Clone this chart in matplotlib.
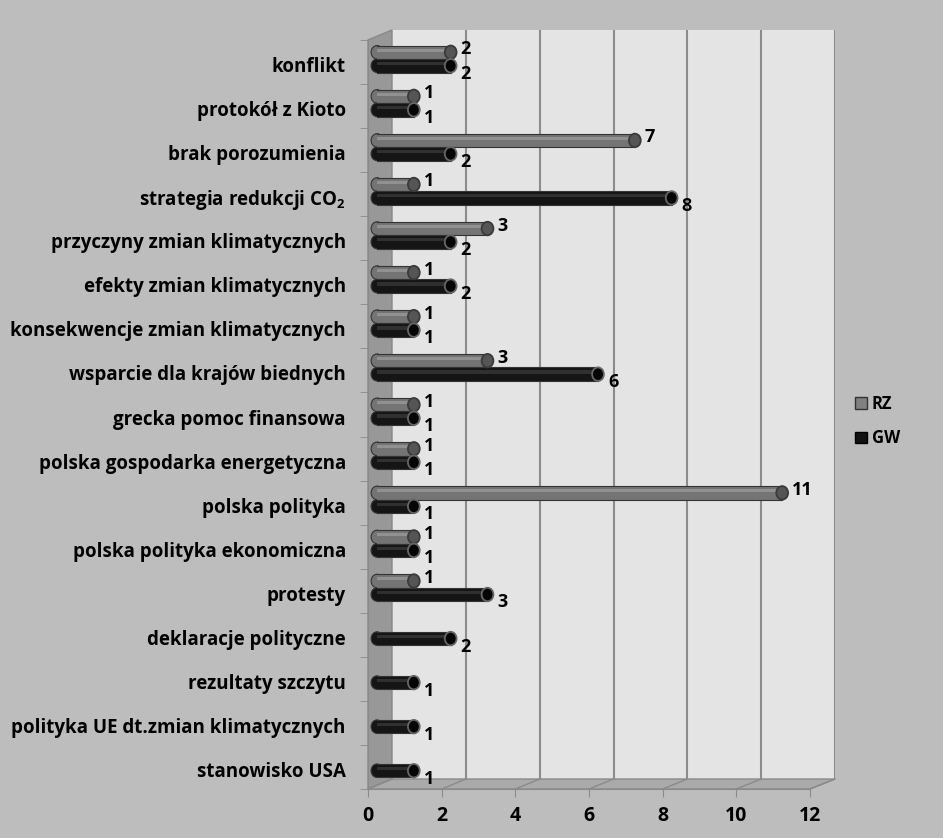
import matplotlib
matplotlib.use('Agg')
import matplotlib.pyplot as plt
import numpy as np
from matplotlib.patches import Polygon, Ellipse, Patch
from matplotlib.lines import Line2D
from matplotlib.transforms import ScaledTranslation

plt.rcParams['font.family'] = ['Open Sans', 'DejaVu Sans']
plt.rcParams['font.weight'] = 'bold'
plt.rcParams['mathtext.default'] = 'regular'

categories = ['konflikt', 'protokół z Kioto', 'brak porozumienia',
              'strategia redukcji CO$_2$', 'przyczyny zmian klimatycznych',
              'efekty zmian klimatycznych', 'konsekwencje zmian klimatycznych',
              'wsparcie dla krajów biednych', 'grecka pomoc finansowa',
              'polska gospodarka energetyczna', 'polska polityka',
              'polska polityka ekonomiczna', 'protesty', 'deklaracje polityczne',
              'rezultaty szczytu', 'polityka UE dt.zmian klimatycznych',
              'stanowisko USA']
rz = [2, 1, 7, 1, 3, 1, 1, 3, 1, 1, 11, 1, 1, None, None, None, None]
gw = [2, 1, 2, 8, 2, 2, 1, 6, 1, 1, 1, 1, 3, 2, 1, 1, 1]
xticks = [0, 2, 4, 6, 8, 10, 12]

W, H = 943, 838
fig = plt.figure(figsize=(W / 100, H / 100), dpi=100)
fig.patch.set_facecolor('#bdbdbd')


def box(x0, y0, x1, y1):
    return [x0 / W, 1 - y1 / H, (x1 - x0) / W, (y1 - y0) / H]


def p(x, y):
    return (x / W, 1 - y / H)


# tylna sciana
back = fig.add_axes(box(392, 30, 835, 779))
back.set_zorder(0)
back.set_facecolor('#e4e4e4')
back.set_xlim(0, 12)
back.set_ylim(0, 1)
back.set_xticks([])
back.set_yticks([])
for s in back.spines.values():
    s.set_visible(False)
for t in xticks[1:]:
    back.axvline(t, color='#8c8c8c', lw=1.5)

# bok i podloga
fig.add_artist(Polygon([p(368, 40), p(392, 30), p(392, 779), p(368, 789)],
                       closed=True, transform=fig.transFigure, zorder=0.5,
                       facecolor='#989898', edgecolor='#888888', lw=1))
fig.add_artist(Polygon([p(368, 789), p(392, 779), p(835, 779), p(810, 789)],
                       closed=True, transform=fig.transFigure, zorder=0.5,
                       facecolor='#aaaaaa', edgecolor='#8a8a8a', lw=1))
for t in xticks:
    xf = 368 + t * (810 - 368) / 12
    xb = 392 + t * (835 - 392) / 12
    fig.add_artist(Line2D([xf / W, xb / W], [1 - 789 / H, 1 - 779 / H],
                          transform=fig.transFigure, color='#8a8a8a', lw=1,
                          zorder=0.6))

ax = fig.add_axes(box(368, 40, 810, 789))
ax.set_zorder(2)
ax.set_facecolor('none')
ax.set_xlim(0, 12)
ax.set_ylim(len(categories) - 0.5, -0.5)
for s in ['top', 'right']:
    ax.spines[s].set_visible(False)
ax.spines['bottom'].set_color('#8a8a8a')
ax.spines['left'].set_color('#8a8a8a')
ax.set_xticks(xticks)
ax.set_xticklabels([str(t) for t in xticks], fontsize=14, fontweight='bold')
ax.tick_params(axis='x', length=6, color='#8a8a8a', pad=6)
y = np.arange(len(categories))
ax.set_yticks(y)
ax.set_yticklabels(categories, fontsize=13.5, fontweight='bold')
ax.tick_params(axis='y', length=0, pad=16)
down = ScaledTranslation(0, -0.025, fig.dpi_scale_trans)
for lab in ax.get_yticklabels():
    lab.set_transform(lab.get_transform() + down)
ax.set_yticks(np.arange(len(categories) + 1) - 0.5, minor=True)
ax.tick_params(axis='y', which='minor', length=6, color='#8a8a8a')

shift = ax.transData + ScaledTranslation(0.09, 0.03, fig.dpi_scale_trans)
h = 0.306
cap_w = 0.32

series = [
    (rz, -h / 2, '#747474', '#9e9e9e', '#555555', '#3a3a3a', 6),
    (gw, h / 2, '#151515', '#3c3c3c', '#050505', '#666666', -5),
]
for vals, off, col, hi, capc, cape, ly in series:
    for i, v in enumerate(vals):
        if v is None:
            continue
        yy = i + off
        ax.add_patch(Ellipse((0, yy), cap_w, h, facecolor=col, edgecolor='#333333',
                             lw=0.8, transform=shift, zorder=2.9))
        ax.barh(yy, v, height=h, color=col, lw=0, transform=shift, zorder=3)
        ax.plot([0, v], [yy - h / 2, yy - h / 2], color='#333333', lw=0.8,
                transform=shift, zorder=3.1)
        ax.plot([0, v], [yy + h / 2, yy + h / 2], color='#333333', lw=0.8,
                transform=shift, zorder=3.1)
        ax.barh(yy - h * 0.16, v, height=h * 0.24, color=hi, lw=0,
                alpha=0.7, transform=shift, zorder=3)
        ax.add_patch(Ellipse((v, yy), cap_w, h, facecolor=capc, edgecolor=cape,
                             lw=1.3, transform=shift, zorder=4))
        ax.annotate(str(v), (v, yy), xytext=(19, ly), textcoords='offset pixels',
                    ha='left', va='center', fontsize=13, fontweight='bold',
                    color='black', zorder=5)

handles = [Patch(facecolor='#808080', edgecolor='#333333', label='RZ'),
           Patch(facecolor='#111111', edgecolor='#000000', label='GW')]
fig.legend(handles=handles, loc='center left', bbox_to_anchor=(840 / W, 1 - 421 / H),
           frameon=False, handlelength=0.7, handleheight=0.7, handletextpad=0.3,
           labelspacing=1.0, prop={'weight': 'bold', 'size': 12})

fig.savefig('out.png', dpi=100, facecolor=fig.get_facecolor())
